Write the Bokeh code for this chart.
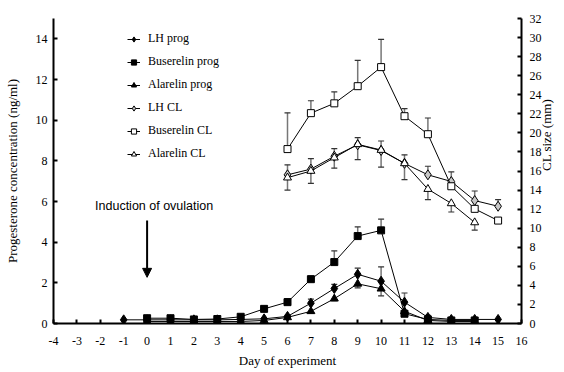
from math import pi
from bokeh.plotting import figure
from bokeh.models import (Range1d, LinearAxis, FixedTicker, Whisker, TeeHead, PrintfTickFormatter,
                          ColumnDataSource, Label, Arrow, NormalHead, Legend, LegendItem)
from bokeh.embed import file_html
from bokeh.resources import INLINE

# ---------------- data ----------------
x_ticks = list(range(-4, 17))
prog_ticks = list(range(0, 15, 2))
cl_ticks = list(range(0, 33, 2))

days_lh_prog = list(range(-1, 16))
lh_prog = [0.18, 0.18, 0.18, 0.18, 0.18, 0.2, 0.23, 0.35, 1.0, 1.72, 2.42, 2.08, 1.05, 0.3, 0.2, 0.2, 0.2]
lh_prog_err = [0, 0, 0, 0, 0, 0, 0, 0.05, 0.2, 0.2, 0.3, 0.7, 0.45, 0.1, 0, 0, 0]

days_bus_prog = list(range(0, 15))
bus_prog = [0.26, 0.26, 0.2, 0.22, 0.33, 0.72, 1.05, 2.18, 3.02, 4.3, 4.58, 0.48, 0.2, 0.15, 0.15]
bus_prog_err = [0.03, 0.03, 0, 0, 0.05, 0.05, 0.17, 0.15, 0.55, 0.45, 0.55, 0.1, 0.05, 0, 0]

days_ala_prog = list(range(0, 15))
ala_prog = [0.1, 0.1, 0.1, 0.1, 0.1, 0.15, 0.3, 0.6, 1.22, 1.95, 1.71, 0.6, 0.15, 0.1, 0.1]
ala_prog_err = [0, 0, 0, 0, 0, 0, 0.05, 0.1, 0.1, 0.2, 0.35, 0.1, 0, 0, 0]

days_lh_cl = list(range(6, 16))
lh_cl = [15.6, 16.2, 17.55, 18.75, 18.15, 16.8, 15.6, 14.9, 12.9, 12.3]
lh_cl_err = [1.05, 1.1, 0.8, 0.75, 1.0, 0.9, 0.9, 1.0, 1.0, 0.7]

days_bus_cl = list(range(6, 16))
bus_cl = [18.3, 22.07, 23.1, 24.9, 26.9, 21.75, 19.86, 14.4, 12.03, 10.8]
bus_cl_err = [3.8, 1.3, 1.2, 2.7, 2.9, 0.8, 1.7, 0.3, 0.3, 0.2]

days_ala_cl = list(range(6, 15))
ala_cl = [15.3, 16.0, 17.4, 18.8, 18.2, 16.8, 14.1, 12.6, 10.6]
ala_cl_err = [1.3, 1.3, 1.1, 1.6, 1.8, 1.7, 1.1, 0.9, 0.8]

# ---------------- figure ----------------
SERIF = "Liberation Serif"
p = figure(width=564, height=372, output_backend="svg", toolbar_location=None,
           x_range=Range1d(-4, 16), y_range=Range1d(0, 15),
           min_border_left=53, min_border_right=41, min_border_top=18, min_border_bottom=49)
p.extra_y_ranges = {"cl": Range1d(0, 32)}
p.outline_line_color = None
p.xgrid.visible = False
p.ygrid.visible = False
p.background_fill_color = "white"

def style_axis(ax):
    ax.axis_line_width = 2
    ax.axis_line_color = "black"
    ax.major_tick_in = 4
    ax.major_tick_out = 0
    ax.major_tick_line_width = 2
    ax.minor_tick_line_color = None
    ax.major_label_text_font = SERIF
    ax.major_label_text_font_size = "12px"
    ax.major_label_text_color = "black"
    ax.axis_label_text_font = SERIF
    ax.axis_label_text_font_size = "13px"
    ax.axis_label_text_font_style = "normal"
    ax.axis_label_text_color = "black"

p.xaxis.ticker = FixedTicker(ticks=x_ticks)
p.xaxis.formatter = PrintfTickFormatter(format="%d")
p.xaxis.axis_label = "Day of experiment"
p.xaxis.major_label_standoff = 13
p.xaxis.axis_label_standoff = 5
style_axis(p.xaxis[0])

p.yaxis.ticker = FixedTicker(ticks=prog_ticks)
p.yaxis.axis_label = "Progesterone concentration (ng/ml)"
p.yaxis.major_label_standoff = 6
p.yaxis.axis_label_standoff = 13
style_axis(p.yaxis[0])

right = LinearAxis(y_range_name="cl", ticker=FixedTicker(ticks=cl_ticks))
right.major_label_standoff = 8
right.axis_label = "CL size (mm)"
right.axis_label_standoff = 2
style_axis(right)
if hasattr(right, "axis_label_orientation"):
    right.axis_label_orientation = pi / 2
right.axis_label_text_align = "center"
right.axis_label_text_baseline = "middle"
p.add_layout(right, "right")

# ---------------- error bars ----------------
def add_err(days, vals, errs, up=True, rng="default"):
    b, lo, hi = [], [], []
    for d, v, e in zip(days, vals, errs):
        if e > 0:
            b.append(d)
            if up:
                lo.append(v); hi.append(v + e)
            else:
                lo.append(v - e); hi.append(v)
    src = ColumnDataSource(dict(base=b, lower=lo, upper=hi))
    head = TeeHead(size=6, line_color="#333333", line_width=1.2)
    w = Whisker(source=src, base="base", lower="lower", upper="upper",
                line_color="#777777", line_width=1.5, y_range_name=rng,
                upper_head=head if up else None, lower_head=None if up else head)
    p.add_layout(w)

add_err(days_lh_prog, lh_prog, lh_prog_err, True)
add_err(days_bus_prog, bus_prog, bus_prog_err, True)
add_err(days_ala_prog, ala_prog, ala_prog_err, False)
add_err(days_bus_cl, bus_cl, bus_cl_err, True, "cl")
add_err(days_lh_cl, lh_cl, lh_cl_err, True, "cl")
add_err(days_ala_cl, ala_cl, ala_cl_err, False, "cl")

# ---------------- series ----------------
def series(days, vals, marker, size, fill, rng="default"):
    kw = {} if rng == "default" else {"y_range_name": rng}
    ln = p.line(days, vals, line_color="black", line_width=1, **kw)
    sc = p.scatter(days, vals, marker=marker, size=size, fill_color=fill,
                   line_color="black", line_width=1, **kw)
    return [ln, sc]

r1 = series(days_lh_prog, lh_prog, "diamond", 10, "black")
r2 = series(days_bus_prog, bus_prog, "square", 7, "black")
r3 = series(days_ala_prog, ala_prog, "triangle", 8, "black")
r4 = series(days_lh_cl, lh_cl, "diamond", 10, "#c8c8c8", "cl")
r5 = series(days_bus_cl, bus_cl, "square", 7, "white", "cl")
r6 = series(days_ala_cl, ala_cl, "triangle", 8, "white", "cl")

legend = Legend(items=[
    LegendItem(label="LH prog", renderers=r1),
    LegendItem(label="Buserelin prog", renderers=r2),
    LegendItem(label="Alarelin prog", renderers=r3),
    LegendItem(label="LH CL", renderers=r4),
    LegendItem(label="Buserelin CL", renderers=r5),
    LegendItem(label="Alarelin CL", renderers=r6),
], location=(74, 162))
legend.background_fill_alpha = 0
legend.border_line_color = None
legend.padding = 0
legend.margin = 0
legend.spacing = 8
legend.glyph_width = 13
legend.glyph_height = 14
legend.label_height = 14
legend.label_standoff = 8
legend.label_text_font = SERIF
legend.label_text_font_size = "12px"
legend.label_text_color = "black"
p.add_layout(legend)

# ---------------- annotation ----------------
p.add_layout(Label(x=0.3, y=5.8, text="Induction of ovulation", text_align="center",
                   text_baseline="middle", text_font="Liberation Sans",
                   text_font_size="12.5px", text_color="black"))
p.add_layout(Arrow(x_start=0, y_start=5.07, x_end=0, y_end=2.27, line_width=2,
                   line_color="black",
                   end=NormalHead(size=9, fill_color="black", line_color="black")))

open("out.html", "w").write(file_html(p, INLINE))
